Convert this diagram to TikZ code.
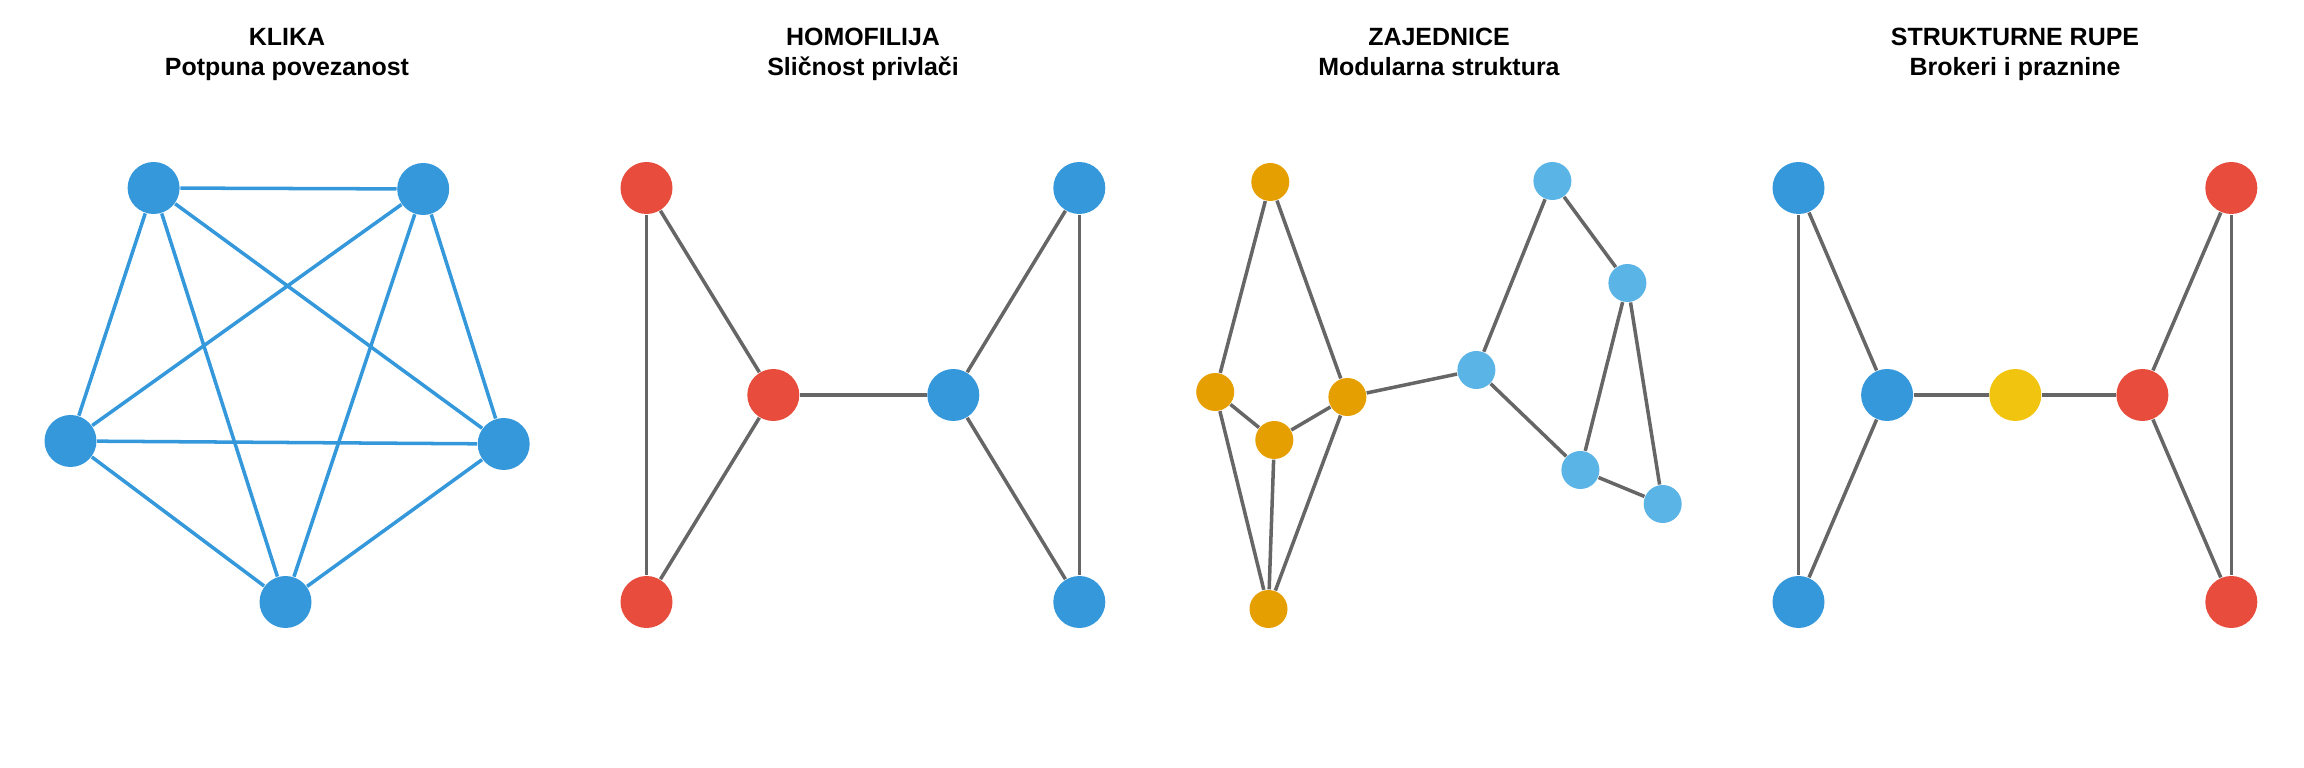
\documentclass[tikz,border=0pt]{standalone}
\usepackage{fontspec}
\setmainfont{Liberation Sans}
\usetikzlibrary{positioning}
\definecolor{nwBlue}{HTML}{3498DB}
\definecolor{nwRed}{HTML}{E74C3C}
\definecolor{nwOrange}{HTML}{E69F00}
\definecolor{nwSky}{HTML}{5AB4E6}
\definecolor{nwYellow}{HTML}{F1C40F}
\definecolor{nwEdge}{HTML}{666666}
\tikzset{
  nwnode/.style={circle, draw=none, inner sep=0pt, minimum size=5.2mm},
  smallnode/.style={nwnode, minimum size=3.8mm},
  bluenode/.style={nwnode, fill=nwBlue},
  rednode/.style={nwnode, fill=nwRed},
  yellownode/.style={nwnode, fill=nwYellow},
  orangenode/.style={smallnode, fill=nwOrange},
  skynode/.style={smallnode, fill=nwSky},
  tie/.style={line width=1pt, nwEdge},
  cliquetie/.style={line width=1pt, nwBlue},
  paneltitle/.style={font=\fontsize{7.1}{8.8}\selectfont\bfseries, align=center, anchor=base}
}
\begin{document}
\begin{tikzpicture}[x=0.1mm, y=-0.1mm]
  \useasboundingbox (0,0) rectangle (2304,768);

  % titles
  \node[paneltitle] (t1) at (287,76) {KLIKA\\Potpuna povezanost};
  \node[paneltitle] (t2) at (863,76) {HOMOFILIJA\\Sličnost privlači};
  \node[paneltitle] (t3) at (1439,76) {ZAJEDNICE\\Modularna struktura};
  \node[paneltitle] (t4) at (2015,76) {STRUKTURNE RUPE\\Brokeri i praznine};

  % klika
  \node[bluenode] (k1) at (153.6,188) {};
  \node[bluenode] (k2) at (423.2,189) {};
  \node[bluenode] (k3) at (70.5,441) {};
  \node[bluenode] (k4) at (503.7,444) {};
  \node[bluenode] (k5) at (285.5,602) {};
  \foreach \a/\b in {k1/k2,k1/k3,k1/k4,k1/k5,k2/k3,k2/k4,k2/k5,k3/k4,k3/k5,k4/k5}
    \draw[cliquetie] (\a) -- (\b);

  % homofilija
  \node[rednode] (h1) at (646.5,188) {};
  \node[rednode] (h2) at (646.5,602) {};
  \node[rednode] (h3) at (773.3,395) {};
  \node[bluenode] (h4) at (953.3,395) {};
  \node[bluenode] (h5) at (1079.3,188) {};
  \node[bluenode] (h6) at (1079.3,602) {};
  \foreach \a/\b in {h1/h2,h1/h3,h2/h3,h3/h4,h4/h5,h4/h6,h5/h6}
    \draw[tie] (\a) -- (\b);

  % zajednice
  \node[orangenode] (z1) at (1270.3,182) {};
  \node[orangenode] (z2) at (1215.2,392) {};
  \node[orangenode] (z3) at (1274.3,440) {};
  \node[orangenode] (z4) at (1347.4,397) {};
  \node[orangenode] (z5) at (1268.5,609) {};
  \node[skynode] (z6) at (1476.4,370) {};
  \node[skynode] (z7) at (1552.4,181) {};
  \node[skynode] (z8) at (1627.4,283) {};
  \node[skynode] (z9) at (1580.4,470) {};
  \node[skynode] (z10) at (1662.7,504) {};
  \foreach \a/\b in {z1/z2,z1/z4,z2/z3,z2/z5,z3/z4,z3/z5,z4/z5,z4/z6,
                     z6/z7,z6/z9,z7/z8,z8/z9,z8/z10,z9/z10}
    \draw[tie] (\a) -- (\b);

  % strukturne rupe
  \node[bluenode] (s1) at (1798.5,188) {};
  \node[bluenode] (s2) at (1798.5,602) {};
  \node[bluenode] (s3) at (1887.1,395) {};
  \node[yellownode] (s4) at (2015.3,395) {};
  \node[rednode] (s5) at (2142.4,395) {};
  \node[rednode] (s6) at (2231.3,188) {};
  \node[rednode] (s7) at (2231.3,602) {};
  \foreach \a/\b in {s1/s2,s1/s3,s2/s3,s3/s4,s4/s5,s5/s6,s5/s7,s6/s7}
    \draw[tie] (\a) -- (\b);
\end{tikzpicture}
\end{document}
